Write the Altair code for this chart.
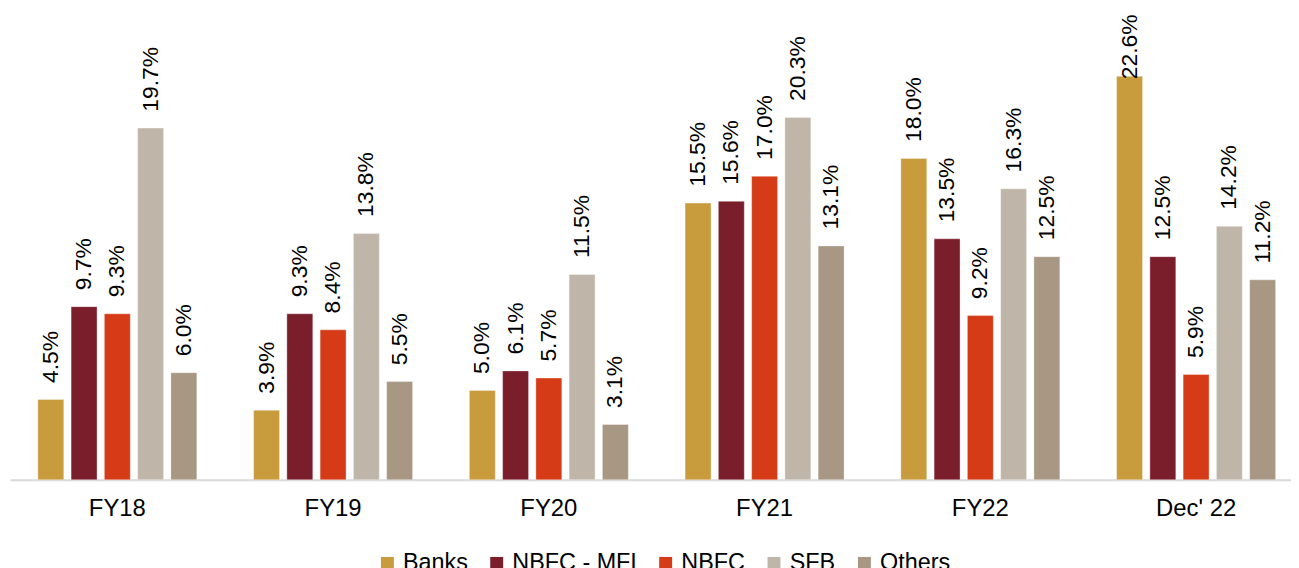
import altair as alt
import pandas as pd

groups = ["FY18", "FY19", "FY20", "FY21", "FY22", "Dec' 22"]
series = ["Banks", "NBFC - MFI", "NBFC", "SFB", "Others"]
banks = [4.5, 3.9, 5.0, 15.5, 18.0, 22.6]
nbfc_mfi = [9.7, 9.3, 6.1, 15.6, 13.5, 12.5]
nbfc = [9.3, 8.4, 5.7, 17.0, 9.2, 5.9]
sfb = [19.7, 13.8, 11.5, 20.3, 16.3, 14.2]
others = [6.0, 5.5, 3.1, 13.1, 12.5, 11.2]
colors = ["#C89B3C", "#7B1E2B", "#D53B17", "#BFB6A9", "#A79783"]

rows = []
for s, vals in zip(series, [banks, nbfc_mfi, nbfc, sfb, others]):
    for g, v in zip(groups, vals):
        rows.append({"group": g, "series": s, "value": v})
df = pd.DataFrame(rows)

FONT = "Liberation Sans"

xenc = alt.X("group:N", sort=groups, title=None,
             scale=alt.Scale(paddingInner=0.263, paddingOuter=0.1002, align=0.644),
             axis=alt.Axis(labelAngle=0, ticks=False, domainColor="#d9d9d9", domainWidth=2,
                           labelFontSize=24, labelColor="#000000", labelPadding=17, labelFont=FONT))
xoff = alt.XOffset("series:N", sort=series, scale=alt.Scale(paddingInner=0.22, paddingOuter=0))
yscale = alt.Scale(domain=[0, 26.33], nice=False, zero=True)

bars = alt.Chart(df).mark_bar(stroke="#ffffff", strokeWidth=1, strokeOpacity=0.35).encode(
    x=xenc,
    xOffset=xoff,
    y=alt.Y("value:Q", scale=yscale, axis=None),
    color=alt.Color("series:N", sort=series,
                    scale=alt.Scale(domain=series, range=colors),
                    legend=alt.Legend(orient="none", legendX=368, legendY=545, direction="horizontal",
                                      columns=5, title=None, symbolType="square", symbolSize=169,
                                      symbolStrokeWidth=0, labelFontSize=23.5, labelFont=FONT,
                                      labelColor="#000000", labelOffset=4, columnPadding=17)),
)

labels = alt.Chart(df).transform_calculate(
    lbl="format(datum.value, '.1f') + '%'",
    ly="min(datum.value + 0.92, 22.44)",
).mark_text(angle=270, align="left", baseline="middle", fontSize=23, font=FONT, color="#000000").encode(
    x=xenc,
    xOffset=xoff,
    y=alt.Y("ly:Q", scale=yscale, axis=None),
    text="lbl:N",
)

chart = alt.layer(bars, labels).properties(
    width=1289, height=473,
    autosize=alt.AutoSizeParams(type="none"),
    padding={"left": 2, "top": 0, "right": 0, "bottom": 87},
).configure_view(stroke=None)

chart.save("out.html", embed_options={"renderer": "svg", "actions": False})
